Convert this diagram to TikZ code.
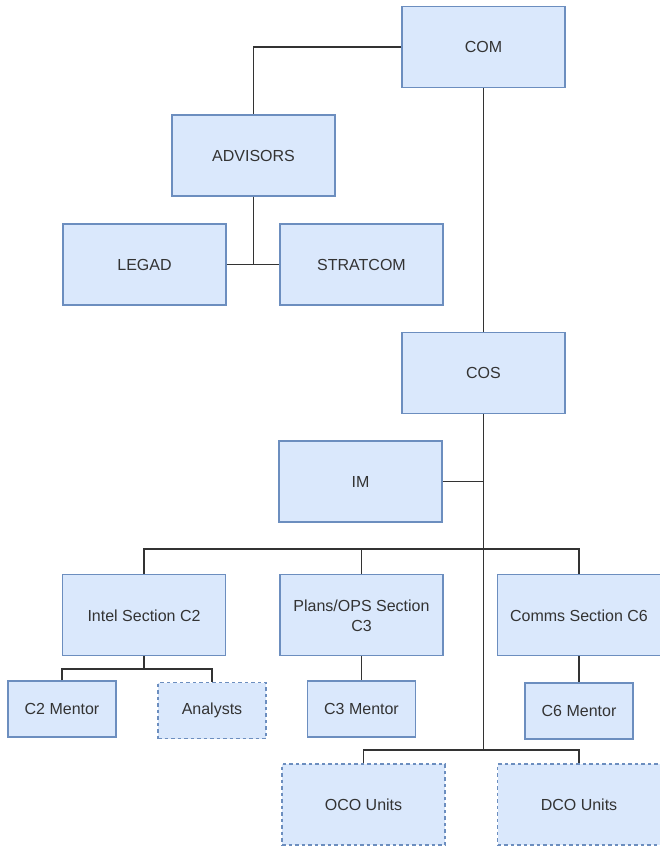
\documentclass[tikz,border=0pt]{standalone}
\usepackage{fontspec}
\setmainfont{Liberation Sans}
\definecolor{boxfill}{HTML}{DAE8FC}
\definecolor{boxline}{HTML}{6C8EBF}
\definecolor{txt}{HTML}{333333}
\definecolor{wire}{HTML}{333333}
\tikzset{
  orgbox/.style={draw=boxline, fill=boxfill, line width=1.2pt, inner sep=0pt,
    align=center, text=txt, font=\fontsize{16}{20}\selectfont,
    minimum width=163pt, minimum height=81pt},
  smallbox/.style={orgbox, minimum width=108pt, minimum height=56pt},
  dashbox/.style={dash pattern=on 3.5pt off 3pt},
  wirestyle/.style={draw=wire, line width=1.3pt}
}
\begin{document}
\begin{tikzpicture}[x=1pt,y=-1pt]
\useasboundingbox (0,0) rectangle (660,847);
% nodes
\node[orgbox] (com) at (483.5,47) {COM};
\node[orgbox] (adv) at (253.5,155.5) {ADVISORS};
\node[orgbox] (legad) at (144.5,264.5) {LEGAD};
\node[orgbox] (strat) at (361.5,264.5) {STRATCOM};
\node[orgbox] (cos) at (483.5,373) {COS};
\node[orgbox] (im) at (360.5,481.5) {IM};
\node[orgbox] (intel) at (144,615.3) {Intel Section C2};
\node[orgbox] (plans) at (361.5,615.3) {Plans/OPS Section\\C3};
\node[orgbox] (comms) at (579,615.3) {Comms Section C6};
\node[smallbox] (c2m) at (62,709) {C2 Mentor};
\node[smallbox, dashbox] (analysts) at (212,710.7) {Analysts};
\node[smallbox] (c3m) at (361.5,709) {C3 Mentor};
\node[smallbox] (c6m) at (579,711) {C6 Mentor};
\node[orgbox, dashbox] (oco) at (363.5,804.5) {OCO Units};
\node[orgbox, dashbox] (dco) at (579,804.5) {DCO Units};
% junction coordinates
\coordinate (bus) at (483.5,549);
\coordinate (subbus) at (144,669);
\coordinate (trunk) at (483.5,750);
% connectors
\draw[wirestyle] (com.west) -| (adv.north);
\draw[wirestyle] (adv.south) -- (adv.south |- legad.east);
\draw[wirestyle] (legad.east) -- (strat.west);
\draw[wirestyle] (com.south) -- (cos.north);
\draw[wirestyle] (cos.south) -- (trunk);
\draw[wirestyle] (im.east) -- (im.east -| cos.south);
\draw[wirestyle] (intel.north) -- (intel.north |- bus) -- (comms.north |- bus) -- (comms.north);
\draw[wirestyle] (plans.north) -- (plans.north |- bus);
\draw[wirestyle] (intel.south) -- (subbus);
\draw[wirestyle] (c2m.north) -- (c2m.north |- subbus) -- (analysts.north |- subbus) -- (analysts.north);
\draw[wirestyle] (plans.south) -- (c3m.north);
\draw[wirestyle] (comms.south) -- (c6m.north);
\draw[wirestyle] (oco.north) -- (oco.north |- trunk) -- (dco.north |- trunk) -- (dco.north);
\end{tikzpicture}
\end{document}
